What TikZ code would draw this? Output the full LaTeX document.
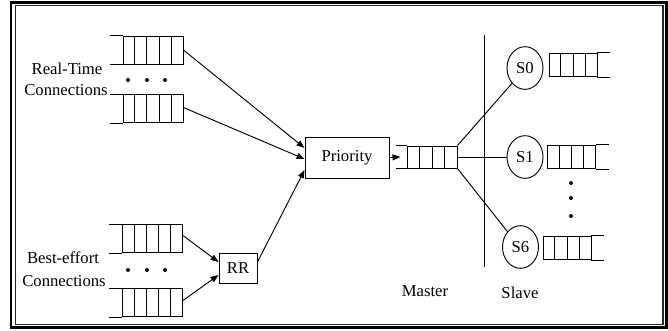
\documentclass[tikz,border=0pt]{standalone}
\usepackage{fontspec}
\setmainfont{Liberation Serif}
\usetikzlibrary{calc,arrows.meta,shapes.geometric}
\begin{document}
\begin{tikzpicture}[x=0.75pt,y=-0.75pt,
  every node/.style={font=\fontsize{12.5}{14}\selectfont, inner sep=0pt},
  thin line/.style={line width=0.7pt},
  box/.style={draw, thin line},
  qbox/.style={draw, thin line, minimum width=45pt, minimum height=21pt},
  mqbox/.style={draw, thin line, minimum width=37.5pt, minimum height=16.5pt},
  sqbox/.style={draw, thin line, minimum width=36pt, minimum height=17.5pt},
  slave/.style={draw, thin line, ellipse, minimum width=27pt, minimum height=32pt},
  arr/.style={thin line, -{Triangle[length=6pt,width=4.5pt]}},
  conn/.style={thin line},
  dot/.style={circle, fill=black, minimum size=3pt}
]
\useasboundingbox (0,0) rectangle (668,330);
% frame
\draw[line width=1.9pt] (11,2.5) rectangle (666.5,327.5);
\draw[line width=1.1pt, black!85] (15.5,5.5) rectangle (663,324.5);

% left queues
\node[qbox] (q1) at (153,50) {};
\node[qbox] (q2) at (153,108.5) {};
\node[qbox] (q3) at (152.5,238.5) {};
\node[qbox] (q4) at (152.5,302.5) {};
\foreach \q in {q1,q2,q3,q4}{
  \foreach \i in {1,...,4}
    \draw[thin line] ($(\q.north west)!\i/5!(\q.north east)$) -- ($(\q.south west)!\i/5!(\q.south east)$);
  \draw[thin line] (\q.north west) -- ++(-13,0);
  \draw[thin line] (\q.south west) -- ++(-13,0);
}
% dots
\foreach \x in {128,147,165}{
  \node[dot] (rtd\x) at (\x,80) {};
  \node[dot] (bed\x) at (\x,270) {};
}
% labels
\node (rt1) at (67,69) {Real-Time};
\node (rt2) at (66,90) {Connections};
\node (be1) at (63,258) {Best-effort};
\node (be2) at (64,281) {Connections};

% RR and Priority
\node[box, minimum width=28.5pt, minimum height=22.5pt] (rr) at (238,268) {RR};
\node[box, minimum width=63pt, minimum height=30.75pt] (pri) at (347,157.5) {Priority};

\draw[arr] (q1.east) -- ($(pri.west)+(0,-9.5)$);
\draw[arr] ($(q2.east)+(0,-1)$) -- ($(pri.west)+(0,1.5)$);
\draw[arr] ($(rr.east)+(0,-6)$) -- ($(pri.west)+(0,12.5)$);
\draw[arr] ($(q3.east)+(0,-3)$) -- ($(rr.west)+(0,-6)$);
\draw[arr] ($(q4.east)+(0,-2)$) -- ($(rr.west)+(0,7)$);

% master queue
\node[mqbox] (mq) at (432,157) {};
\foreach \i in {1,...,3}
  \draw[thin line] ($(mq.north west)!\i/4!(mq.north east)$) -- ($(mq.south west)!\i/4!(mq.south east)$);
\draw[thin line] (mq.north west) -- ++(-11,0);
\draw[thin line] (mq.south west) -- ++(-11,0);
\coordinate (mqin) at ($(mq.west)+(-6,0)$);
\draw[arr] (pri.east) -- (mqin);

% vertical separator
\coordinate (vtop) at (484,35);
\coordinate (vbot) at (484,267);
\draw[thin line] (vtop) -- (vbot);

% slaves
\node[slave] (s0) at (525,68) {S0};
\node[slave] (s1) at (525,157) {S1};
\node[slave] (s6) at (520.5,247) {S6};
\draw[conn] (mq.north east) -- (s0.south west);
\draw[conn] (mq.east) -- (s1.west);
\draw[conn] (mq.south east) -- (s6.north west);

% slave queues
\node[sqbox] (t0) at (573,65) {};
\node[sqbox] (t1) at (571.5,157) {};
\node[sqbox] (t6) at (567,248) {};
\foreach \q in {t0,t1,t6}{
  \foreach \i in {1,...,3}
    \draw[thin line] ($(\q.north west)!\i/4!(\q.north east)$) -- ($(\q.south west)!\i/4!(\q.south east)$);
  \draw[thin line] (\q.north east) -- ++(13,0);
  \draw[thin line] (\q.south east) -- ++(13,0);
}
% vertical dots
\node[dot] (vd1) at (571,183) {};
\node[dot] (vd2) at (571,198) {};
\node[dot] (vd3) at (571,216) {};

% bottom labels
\node (master) at (425,291) {Master};
\node (slavel) at (520,293) {Slave};
\end{tikzpicture}
\end{document}
